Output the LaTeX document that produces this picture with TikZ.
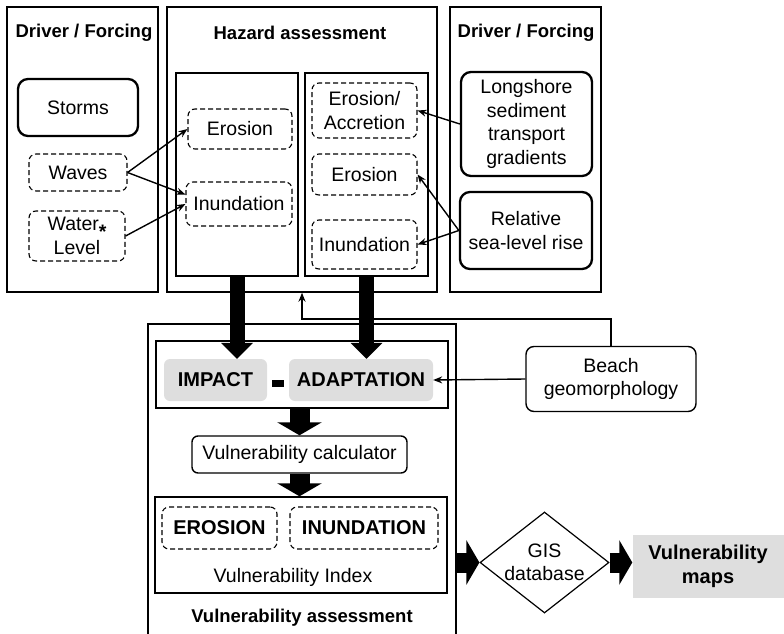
\documentclass[tikz,border=0pt]{standalone}
\usepackage{fontspec}
\setmainfont{Liberation Sans}
\usetikzlibrary{arrows.meta}
\usetikzlibrary{shapes.geometric}
\tikzset{
    tnode/.style = {align=center, inner sep=1pt, text centered, font=\fontsize{19.5}{23.5}\selectfont},
    title_node/.style = {tnode, font=\fontsize{18.5}{22}\selectfont\bfseries},
    panel/.style = {rectangle, draw=black, line width=1.4pt, inner sep=0pt},
    panel_line/.style = {draw=black, line width=1.4pt},
    drv_node/.style = {tnode, rectangle, draw=black, line width=2.3pt, rounded corners=10pt},
    dash_node/.style = {tnode, rectangle, draw=black, dash pattern=on 5pt off 3pt, line width=1.1pt, rounded corners=7pt},
    grey_node/.style = {tnode, rectangle, fill=black!13, rounded corners=6pt, font=\fontsize{20}{23.5}\selectfont\bfseries},
    plain_node/.style = {tnode, rectangle, draw=black, line width=1.4pt, rounded corners=8pt},
    thin_arrow/.style = {-{Stealth[length=9pt,width=7pt]}, line width=1.4pt},
    big_arrow/.style = {-{Triangle[width=31pt,length=16pt]}, line width=15pt},
    fat_arrow/.style = {-{Triangle[width=44pt,length=13pt]}, line width=20pt}
}
\begin{document}
\begin{tikzpicture}[x=1pt, y=-1pt]
\useasboundingbox (0,0) rectangle (784,634);
% upper panels
\node [panel, minimum width=151pt, minimum height=285pt] (dfl) at (82.5,149.5) {};
\node [panel, minimum width=270pt, minimum height=285pt] (ha) at (302,149.5) {};
\node [panel, minimum width=151pt, minimum height=285pt] (dfr) at (525.5,149.5) {};
\node [panel, minimum width=122pt, minimum height=203pt] (hl) at (237,174.5) {};
\node [panel, minimum width=123pt, minimum height=203pt] (hr) at (366.5,174.5) {};
\node [title_node] (t_dfl) at (84,33) {Driver / Forcing};
\node [title_node] (t_ha) at (300,33) {Hazard assessment};
\node [title_node] (t_dfr) at (526,33) {Driver / Forcing};
% drivers
\node [drv_node, minimum width=120pt, minimum height=57pt] (storms) at (78,107.5) {Storms};
\node [dash_node, minimum width=98pt, minimum height=37pt] (waves) at (78,172.5) {Waves};
\node [dash_node, minimum width=96pt, minimum height=50pt] (wlevel) at (77,236) {Water\raisebox{-0.4em}{\textbf{*}}\\Level};
\node [drv_node, minimum width=131pt, minimum height=104pt] (lst) at (526.5,124) {Longshore\\sediment\\transport\\gradients};
\node [drv_node, minimum width=132pt, minimum height=77pt] (slr) at (526,230.5) {Relative\\sea-level rise};
% hazards
\node [dash_node, minimum width=104pt, minimum height=40pt] (er_l) at (240,129) {Erosion};
\node [dash_node, minimum width=106pt, minimum height=44pt] (in_l) at (239,204) {Inundation};
\node [dash_node, minimum width=105pt, minimum height=55pt] (ea) at (364.5,110.5) {Erosion/\\Accretion};
\node [dash_node, minimum width=105pt, minimum height=41pt] (er_r) at (364.5,174.5) {Erosion};
\node [dash_node, minimum width=105pt, minimum height=49pt] (in_r) at (364.5,244.5) {Inundation};
\draw [thin_arrow] (waves.east) -- (er_l.west);
\draw [thin_arrow] (waves.east) -- (in_l.170);
\draw [thin_arrow] (wlevel.east) -- (in_l.west);
\draw [thin_arrow] (lst.west) -- (ea.east);
\draw [thin_arrow] (slr.west) -- (er_r.east);
\draw [thin_arrow] (slr.west) -- (in_r.east);
% vulnerability assessment
\draw [panel_line] (148,634) |- (456,324) -- (456,634);
\coordinate (va_e) at (456,562.5);
\node [panel, minimum width=292pt, minimum height=67pt] (impbox) at (302,374.5) {};
\node [grey_node, minimum width=103pt, minimum height=42pt] (impact) at (215.5,380) {IMPACT};
\node [rectangle, fill=black, inner sep=0pt, minimum width=12pt, minimum height=7pt] (minus) at (278,383.5) {};
\node [grey_node, minimum width=144pt, minimum height=42pt] (adapt) at (361,380) {ADAPTATION};
\node [plain_node, minimum width=215pt, minimum height=37pt, rounded corners=6pt] (calc) at (299.5,454.5) {Vulnerability calculator};
\node [panel, minimum width=292pt, minimum height=96pt] (index) at (301,545) {};
\node [dash_node, minimum width=115pt, minimum height=42pt, font=\fontsize{20}{23.5}\selectfont\bfseries] (v_er) at (219.5,528) {EROSION};
\node [dash_node, minimum width=148pt, minimum height=42pt, font=\fontsize{20}{23.5}\selectfont\bfseries] (v_in) at (364,528) {INUNDATION};
\node [tnode] (vi) at (293,577) {Vulnerability Index};
\node [title_node] (t_va) at (302,618) {Vulnerability assessment};
\node [plain_node, minimum width=170pt, minimum height=65pt] (beach) at (611,379) {Beach\\geomorphology};
\coordinate (geo_turn) at (611,319);
\draw [thin_arrow] (beach.west) -- (adapt.east);
\draw [thin_arrow] (beach.north) -- (geo_turn) -| (ha.south);
\draw [big_arrow] (hl.south) -- (hl.south |- impact.north);
\draw [big_arrow] (hr.south) -- (hr.south |- adapt.north);
\draw [fat_arrow] (calc.north |- impbox.south) -- (calc.north);
\draw [fat_arrow] (calc.south) -- (calc.south |- index.north);
% outputs
\node [tnode, diamond, draw=black, line width=1.2pt, aspect=1.28, inner sep=0pt, minimum width=129pt, minimum height=101pt] (gis) at (544.5,562.5) {GIS\\database};
\node [grey_node, rounded corners=0pt, minimum width=151pt, minimum height=63pt] (maps) at (708,566.5) {Vulnerability\\maps};
\draw [fat_arrow] (va_e) -- (gis.west);
\draw [fat_arrow] (gis.east) -- (gis.east -| maps.west);
\end{tikzpicture}
\end{document}
